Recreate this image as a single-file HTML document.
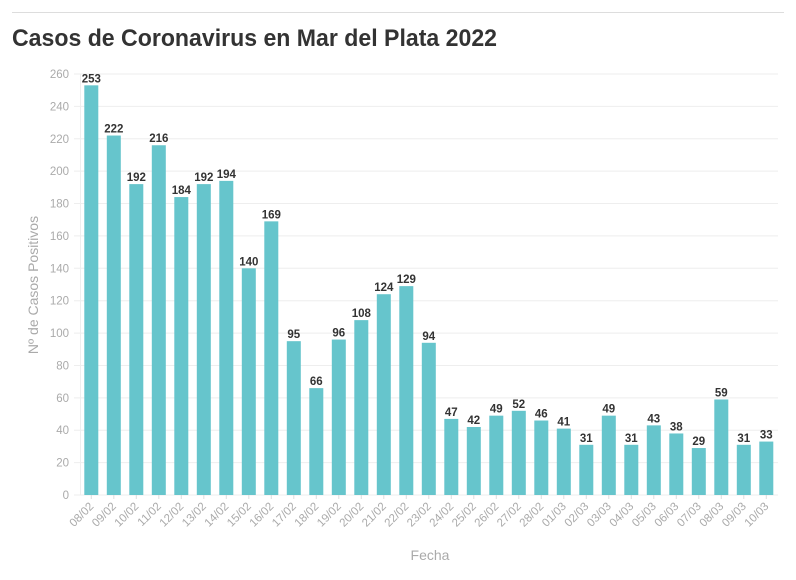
<!DOCTYPE html>
<html><head><meta charset="utf-8"><style>
body{margin:0;background:#fff;width:796px;height:575px;overflow:hidden;font-family:"Liberation Sans",sans-serif}
</style></head><body>
<svg width="796" height="575" xmlns="http://www.w3.org/2000/svg" font-family="Liberation Sans, sans-serif">
<line x1="12" y1="12.5" x2="784" y2="12.5" stroke="#ddd" stroke-width="1"/>
<text x="12" y="46" font-size="24" font-weight="bold" fill="#333" textLength="485" lengthAdjust="spacingAndGlyphs">Casos de Coronavirus en Mar del Plata 2022</text>
<g id="g"></g>
<text transform="translate(38,285) rotate(-90)" text-anchor="middle" font-size="14" fill="#aaa">Nº de Casos Positivos</text>
<text x="430" y="560" text-anchor="middle" font-size="14" fill="#aaa">Fecha</text>
</svg>
<script>
const v=[253,222,192,216,184,192,194,140,169,95,66,96,108,124,129,94,47,42,49,52,46,41,31,49,31,43,38,29,59,31,33];
const d=["08/02","09/02","10/02","11/02","12/02","13/02","14/02","15/02","16/02","17/02","18/02","19/02","20/02","21/02","22/02","23/02","24/02","25/02","26/02","27/02","28/02","01/03","02/03","03/03","04/03","05/03","06/03","07/03","08/03","09/03","10/03"];
const y0=495,k=(495-74)/260;let s='';
for(let i=0;i<=13;i++){const y=y0-i*20*k;s+=`<line x1="74" x2="778" y1="${y}" y2="${y}" stroke="#eee"/><text x="69" y="${y+4}" text-anchor="end" font-size="11.5" fill="#aaa">${i*20}</text>`;}
s+=`<line x1="80.5" x2="80.5" y1="74" y2="495" stroke="#eee"/>`;
v.forEach((n,i)=>{const c=91.3+i*22.5,h=n*k;
s+=`<rect x="${c-7}" y="${y0-h}" width="14" height="${h}" fill="#66c5cc"/>`;
s+=`<text x="${c}" y="${y0-h-3}" text-anchor="middle" font-size="11.5" font-weight="bold" fill="#333">${n}</text>`;
s+=`<line x1="${c}" x2="${c}" y1="495" y2="499" stroke="#ddd"/>`;
s+=`<text transform="translate(${c+3},${507}) rotate(-45)" text-anchor="end" font-size="11.5" fill="#aaa">${d[i]}</text>`;});
document.getElementById('g').innerHTML=s;
</script>
</body></html>
